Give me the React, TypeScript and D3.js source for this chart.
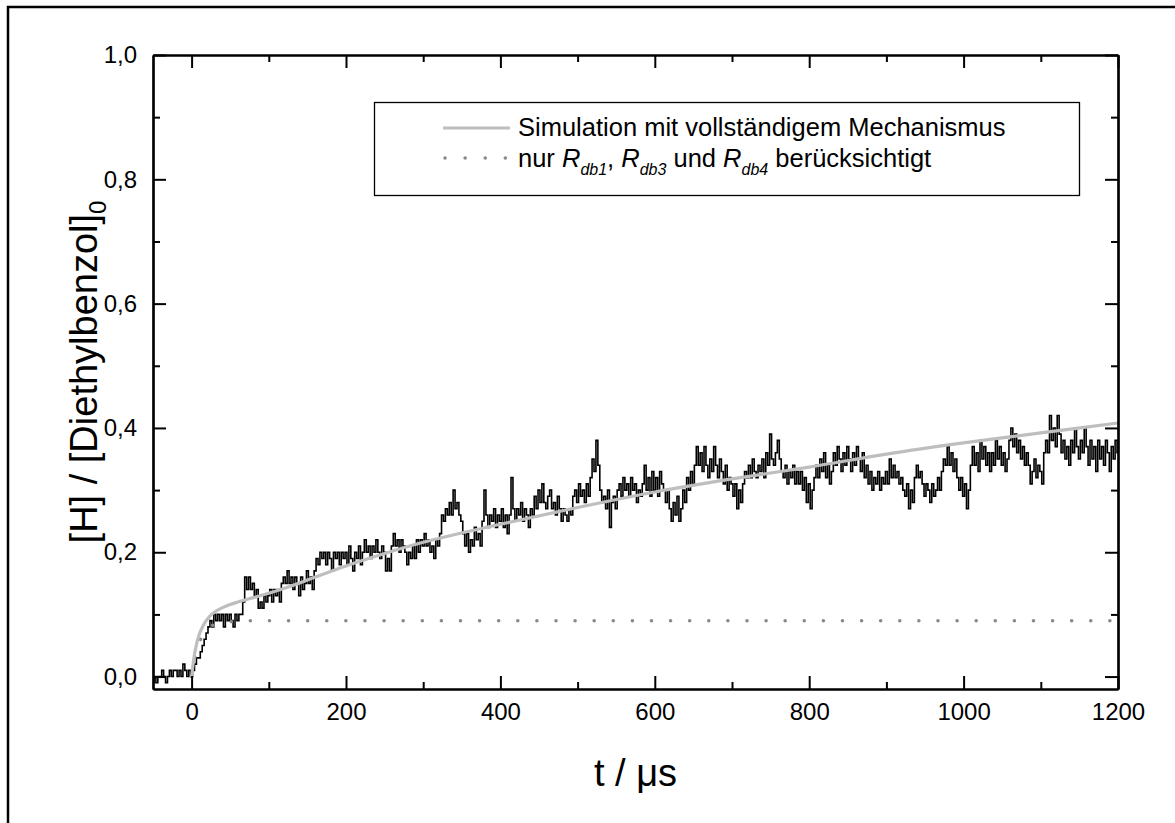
import React, { Component, createRef } from "react";
import * as d3 from "d3";

// measured signal, sampled every 2.5 µs starting at -50 µs
const signalStart = -50;
const signalStep = 2.5;
const sigPre = [-0.01, 0.0, -0.01, 0.0, 0.0, 0.01, 0.0, -0.01, 0.0, 0.01, 0.0, 0.01, 0.01, 0.0, 0.01, 0.0, 0.02, 0.01, 0.0, 0.01];
const sig0 = [0.0, 0.01, 0.02, 0.03, 0.03, 0.04, 0.05, 0.06, 0.07, 0.08, 0.09, 0.08, 0.1, 0.09, 0.1, 0.09, 0.1, 0.08, 0.1, 0.09,
  0.1, 0.09, 0.08, 0.1, 0.09, 0.1, 0.1, 0.12, 0.16, 0.14, 0.16, 0.14, 0.15, 0.13, 0.14, 0.11, 0.12, 0.11, 0.13, 0.12];
const sig100 = [0.13, 0.14, 0.12, 0.14, 0.13, 0.14, 0.12, 0.15, 0.16, 0.15, 0.17, 0.15, 0.16, 0.14, 0.16, 0.15, 0.13, 0.16, 0.14, 0.15,
  0.17, 0.15, 0.16, 0.14, 0.17, 0.19, 0.18, 0.2, 0.19, 0.2, 0.18, 0.2, 0.19, 0.17, 0.2, 0.19, 0.2, 0.18, 0.2, 0.19];
const sig200 = [0.2, 0.18, 0.21, 0.19, 0.17, 0.2, 0.19, 0.21, 0.18, 0.2, 0.22, 0.2, 0.21, 0.19, 0.21, 0.2, 0.22, 0.2, 0.19, 0.21,
  0.2, 0.17, 0.19, 0.17, 0.21, 0.23, 0.21, 0.22, 0.2, 0.22, 0.21, 0.2, 0.18, 0.2, 0.19, 0.21, 0.19, 0.22, 0.2, 0.22];
const sig300 = [0.21, 0.23, 0.21, 0.22, 0.2, 0.21, 0.19, 0.22, 0.21, 0.23, 0.26, 0.25, 0.27, 0.26, 0.28, 0.26, 0.3, 0.27, 0.28, 0.26,
  0.25, 0.23, 0.21, 0.23, 0.2, 0.22, 0.21, 0.24, 0.22, 0.23, 0.21, 0.25, 0.3, 0.26, 0.24, 0.26, 0.25, 0.27, 0.24, 0.26];
const sig400 = [0.25, 0.27, 0.24, 0.26, 0.23, 0.26, 0.32, 0.27, 0.25, 0.27, 0.26, 0.28, 0.25, 0.27, 0.26, 0.24, 0.27, 0.26, 0.29, 0.27,
  0.3, 0.28, 0.31, 0.28, 0.27, 0.29, 0.3, 0.27, 0.28, 0.26, 0.29, 0.27, 0.25, 0.27, 0.26, 0.25, 0.27, 0.26, 0.29, 0.3];
const sig500 = [0.28, 0.31, 0.29, 0.3, 0.28, 0.31, 0.29, 0.32, 0.35, 0.33, 0.38, 0.34, 0.3, 0.28, 0.29, 0.27, 0.3, 0.24, 0.28, 0.29,
  0.27, 0.3, 0.31, 0.29, 0.32, 0.3, 0.31, 0.29, 0.32, 0.3, 0.31, 0.28, 0.3, 0.29, 0.31, 0.34, 0.3, 0.32, 0.29, 0.33];
const sig600 = [0.3, 0.32, 0.29, 0.33, 0.31, 0.3, 0.28, 0.3, 0.27, 0.25, 0.28, 0.26, 0.29, 0.25, 0.27, 0.3, 0.28, 0.32, 0.3, 0.33,
  0.31, 0.34, 0.37, 0.34, 0.36, 0.33, 0.37, 0.34, 0.32, 0.35, 0.33, 0.37, 0.34, 0.32, 0.35, 0.33, 0.31, 0.34, 0.3, 0.32];
const sig700 = [0.31, 0.29, 0.31, 0.27, 0.3, 0.28, 0.31, 0.33, 0.32, 0.34, 0.32, 0.35, 0.33, 0.32, 0.34, 0.33, 0.35, 0.32, 0.36, 0.34,
  0.39, 0.35, 0.34, 0.36, 0.38, 0.35, 0.33, 0.32, 0.34, 0.31, 0.33, 0.32, 0.34, 0.31, 0.33, 0.31, 0.33, 0.3, 0.32, 0.28];
const sig800 = [0.31, 0.27, 0.3, 0.32, 0.34, 0.32, 0.35, 0.33, 0.36, 0.32, 0.34, 0.31, 0.33, 0.36, 0.34, 0.37, 0.35, 0.33, 0.36, 0.34,
  0.37, 0.35, 0.33, 0.36, 0.34, 0.37, 0.35, 0.33, 0.36, 0.32, 0.34, 0.31, 0.33, 0.3, 0.32, 0.31, 0.33, 0.3, 0.32, 0.31];
const sig900 = [0.33, 0.31, 0.35, 0.32, 0.34, 0.32, 0.33, 0.31, 0.32, 0.3, 0.29, 0.31, 0.27, 0.3, 0.28, 0.32, 0.34, 0.32, 0.33, 0.31,
  0.29, 0.31, 0.3, 0.28, 0.31, 0.29, 0.3, 0.32, 0.3, 0.33, 0.35, 0.34, 0.37, 0.34, 0.36, 0.33, 0.35, 0.32, 0.3, 0.32];
const sig1000 = [0.29, 0.31, 0.27, 0.3, 0.34, 0.37, 0.34, 0.36, 0.33, 0.38, 0.35, 0.37, 0.34, 0.36, 0.33, 0.36, 0.34, 0.38, 0.35, 0.37,
  0.34, 0.36, 0.33, 0.35, 0.38, 0.4, 0.37, 0.39, 0.36, 0.38, 0.35, 0.37, 0.34, 0.36, 0.34, 0.31, 0.33, 0.35, 0.32, 0.34];
const sig1100 = [0.33, 0.31, 0.36, 0.38, 0.36, 0.42, 0.38, 0.4, 0.37, 0.42, 0.39, 0.36, 0.38, 0.35, 0.37, 0.34, 0.38, 0.36, 0.4, 0.37,
  0.35, 0.38, 0.36, 0.4, 0.37, 0.34, 0.38, 0.35, 0.37, 0.33, 0.38, 0.35, 0.37, 0.34, 0.38, 0.36, 0.33, 0.37, 0.35, 0.38, 0.36];

// simulation, full mechanism
const simT = [0, 3, 6, 10, 15, 20, 25, 30, 40, 50, 60, 80, 100, 130, 160, 200, 250, 300, 400, 500, 600, 700, 800, 900, 1000, 1100, 1200];
const simFull = [0.0, 0.03, 0.05, 0.068, 0.082, 0.092, 0.099, 0.104, 0.111, 0.116, 0.12, 0.127, 0.134, 0.146, 0.16, 0.178, 0.198, 0.216,
  0.245, 0.272, 0.297, 0.318, 0.337, 0.358, 0.376, 0.392, 0.408];
// simulation, only R_db1, R_db3, R_db4
const simRedT = [0, 5, 10, 15, 20, 30, 40, 60, 80, 1200];
const simRed = [0.0, 0.035, 0.055, 0.068, 0.076, 0.084, 0.087, 0.089, 0.09, 0.09];

const xMajor = [0, 200, 400, 600, 800, 1000, 1200];
const xMinor = [100, 300, 500, 700, 900, 1100];
const yMajor = [0, 0.2, 0.4, 0.6, 0.8, 1.0];
const yMinor = [0.1, 0.3, 0.5, 0.7, 0.9];

const FONT = "'Liberation Sans', Arial, Helvetica, sans-serif";

class App extends Component {
  svgRef = createRef<SVGSVGElement>();

  componentDidMount() {
    this.renderChart();
  }

  renderChart() {
    const left = 153, top = 55, right = 1118, bottom = 689;
    const w = right - left, h = bottom - top;

    const svg = d3.select(this.svgRef.current);
    svg.selectAll("*").remove();

    const signal = [...sigPre, ...sig0, ...sig100, ...sig200, ...sig300, ...sig400, ...sig500, ...sig600,
      ...sig700, ...sig800, ...sig900, ...sig1000, ...sig1100].map((v, i) => ({ t: signalStart + i * signalStep, v }));

    const x = d3.scaleLinear().domain([-50, 1200]).range([0, w]);
    const y = d3.scaleLinear().domain([-0.02, 1.0]).range([h, 0]);

    // outer frame (cut off by the page edge on right/bottom)
    svg.append("path")
      .attr("d", "M8,823 L8,7 L1175,7")
      .attr("fill", "none")
      .attr("stroke", "#000")
      .attr("stroke-width", 2.5);

    const g = svg.append("g").attr("transform", `translate(${left},${top})`);

    g.append("clipPath").attr("id", "plotclip")
      .append("rect").attr("width", w).attr("height", h);

    const plot = g.append("g").attr("clip-path", "url(#plotclip)");

    const stepLine = d3.line<{ t: number; v: number }>()
      .x(d => x(d.t))
      .y(d => y(d.v))
      .curve(d3.curveStep);
    const smooth = d3.line<{ t: number; v: number }>()
      .x(d => x(d.t))
      .y(d => y(d.v))
      .curve(d3.curveMonotoneX);

    plot.append("path")
      .datum(signal)
      .attr("fill", "none")
      .attr("stroke", "#000")
      .attr("stroke-width", 1.6)
      .attr("d", stepLine);

    plot.append("path")
      .datum(simRedT.map((t, i) => ({ t, v: simRed[i] })))
      .attr("fill", "none")
      .attr("stroke", "#8a8a8a")
      .attr("stroke-width", 3.5)
      .attr("stroke-linecap", "round")
      .attr("stroke-dasharray", "0.1 19")
      .attr("d", smooth);

    plot.append("path")
      .datum(simT.map((t, i) => ({ t, v: simFull[i] })))
      .attr("fill", "none")
      .attr("stroke", "#bebebe")
      .attr("stroke-width", 3.2)
      .attr("d", smooth);

    // axes
    const fmt = (d: number) => d3.format(".1f")(d).replace(".", ",");
    const styleAxis = (sel: d3.Selection<SVGGElement, unknown, null, undefined>) => {
      sel.select(".domain").attr("stroke-width", 2.2);
      sel.selectAll(".tick line").attr("stroke-width", 2);
      sel.selectAll(".tick text").attr("font-family", FONT).attr("font-size", 24).attr("fill", "#000");
    };

    g.append("g").attr("transform", `translate(0,${h})`)
      .call(d3.axisBottom(x).tickValues(xMajor).tickSizeInner(-13).tickSizeOuter(0).tickPadding(14).tickFormat(d => String(d)))
      .call(styleAxis);
    g.append("g").attr("transform", `translate(0,${h})`)
      .call(d3.axisBottom(x).tickValues(xMinor).tickSizeInner(-7).tickSizeOuter(0).tickFormat(() => ""))
      .call(styleAxis);
    g.append("g")
      .call(d3.axisTop(x).tickValues(xMajor).tickSizeInner(-13).tickSizeOuter(0).tickFormat(() => ""))
      .call(styleAxis);
    g.append("g")
      .call(d3.axisTop(x).tickValues(xMinor).tickSizeInner(-7).tickSizeOuter(0).tickFormat(() => ""))
      .call(styleAxis);

    g.append("g")
      .call(d3.axisLeft(y).tickValues(yMajor).tickSizeInner(-13).tickSizeOuter(0).tickPadding(16).tickFormat(d => fmt(d as number)))
      .call(styleAxis);
    g.append("g")
      .call(d3.axisLeft(y).tickValues(yMinor).tickSizeInner(-7).tickSizeOuter(0).tickFormat(() => ""))
      .call(styleAxis);
    g.append("g").attr("transform", `translate(${w},0)`)
      .call(d3.axisRight(y).tickValues(yMajor).tickSizeInner(-13).tickSizeOuter(0).tickFormat(() => ""))
      .call(styleAxis);
    g.append("g").attr("transform", `translate(${w},0)`)
      .call(d3.axisRight(y).tickValues(yMinor).tickSizeInner(-7).tickSizeOuter(0).tickFormat(() => ""))
      .call(styleAxis);

    // axis titles
    svg.append("text")
      .attr("x", left + w / 2)
      .attr("y", 786)
      .attr("text-anchor", "middle")
      .attr("font-family", FONT)
      .attr("font-size", 38)
      .text("t / μs");

    const yt = svg.append("text")
      .attr("transform", `translate(97,${top + h / 2}) rotate(-90)`)
      .attr("text-anchor", "middle")
      .attr("font-family", FONT)
      .attr("font-size", 38);
    yt.append("tspan").text("[H] / [Diethylbenzol]");
    yt.append("tspan").attr("font-size", 24).attr("dy", 9).text("0");

    // legend
    const lg = svg.append("g");
    lg.append("rect")
      .attr("x", 374.5).attr("y", 102.5)
      .attr("width", 705).attr("height", 93)
      .attr("fill", "#fff")
      .attr("stroke", "#000")
      .attr("stroke-width", 1.3);

    lg.append("line")
      .attr("x1", 443).attr("x2", 510).attr("y1", 128).attr("y2", 128)
      .attr("stroke", "#bebebe").attr("stroke-width", 3);
    lg.append("line")
      .attr("x1", 445).attr("x2", 510).attr("y1", 158).attr("y2", 158)
      .attr("stroke", "#8a8a8a").attr("stroke-width", 3.5)
      .attr("stroke-linecap", "round").attr("stroke-dasharray", "0.1 20");

    lg.append("text")
      .attr("x", 518).attr("y", 136)
      .attr("font-family", FONT).attr("font-size", 25.5)
      .text("Simulation mit vollständigem Mechanismus");

    const t2 = lg.append("text")
      .attr("x", 518).attr("y", 167)
      .attr("font-family", FONT).attr("font-size", 25.5);
    const addR = (sub: string, after: string) => {
      t2.append("tspan").attr("font-style", "italic").text("R");
      t2.append("tspan").attr("font-style", "italic").attr("font-size", 16).attr("dy", 8).text(sub);
      t2.append("tspan").attr("dy", -8).text(after);
    };
    t2.append("tspan").text("nur ");
    addR("db1", ", ");
    addR("db3", " und ");
    addR("db4", " berücksichtigt");
  }

  render() {
    return (
      <svg
        ref={this.svgRef}
        width={1175}
        height={823}
        style={{ position: "absolute", left: 0, top: 0, background: "#fff" }}
      />
    );
  }
}

export default App;
